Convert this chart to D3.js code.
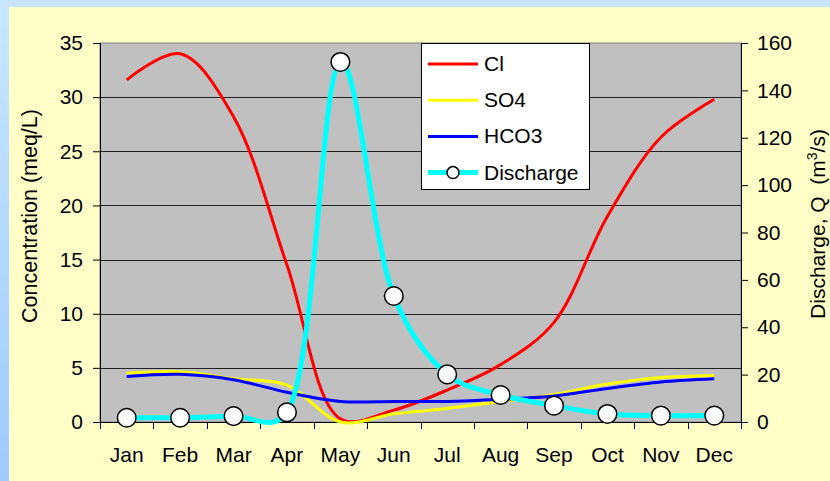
<!DOCTYPE html>
<html>
<head>
<meta charset="utf-8">
<title>Concentration and discharge</title>
<script src="https://cdn.jsdelivr.net/npm/d3@7"></script>
<style>
  html, body { margin: 0; padding: 0; width: 830px; height: 481px; overflow: hidden; }
  svg { display: block; font-family: Arial, "Liberation Sans", sans-serif; }
</style>
</head>
<body>
<svg class="main" width="830" height="481"></svg>
<script>
  // data
  var months = ["Jan", "Feb", "Mar", "Apr", "May", "Jun", "Jul", "Aug", "Sep", "Oct", "Nov", "Dec"];
  var cl = [31.6, 34.0, 28.2, 14.5, 0.3, 1.1, 2.95, 5.3, 9.2, 19.0, 26.3, 29.8];
  var so4 = [4.5, 4.65, 4.0, 3.4, 0.0, 0.75, 1.25, 1.9, 2.55, 3.5, 4.1, 4.3];
  var hco3 = [4.2, 4.4, 3.9, 2.75, 1.9, 1.9, 1.9, 2.1, 2.4, 3.1, 3.7, 4.0];
  var discharge = [1.8, 1.8, 2.5, 4.1, 152, 53.2, 20.1, 11.4, 6.9, 3.4, 2.7, 2.7];
  var leftTicks = [0, 5, 10, 15, 20, 25, 30, 35];
  var rightTicks = [0, 20, 40, 60, 80, 100, 120, 140, 160];

  var svg = d3.select("svg");
  var W = 830, H = 481;
  var plot = { left: 100, right: 741, top: 43, bottom: 422 };

  // background: blue frame + pale yellow panel
  var defs = svg.append("defs");
  var grad = defs.append("linearGradient").attr("id", "edge")
      .attr("x1", 0).attr("y1", 0).attr("x2", 0).attr("y2", 1);
  grad.append("stop").attr("offset", "0%").attr("stop-color", "#c8e6ff");
  grad.append("stop").attr("offset", "100%").attr("stop-color", "#9fcbff");

  svg.append("rect").attr("width", W).attr("height", H).attr("fill", "#c8e6ff");
  svg.append("rect").attr("width", 9).attr("height", H).attr("fill", "url(#edge)");
  svg.append("rect").attr("x", 9).attr("y", 7).attr("width", W - 9).attr("height", H - 7)
      .attr("fill", "#ffffc8");

  // scales
  var x = d3.scaleBand().domain(months).range([plot.left, plot.right]);
  var yL = d3.scaleLinear().domain([0, 35]).range([plot.bottom, plot.top]);
  var yR = d3.scaleLinear().domain([0, 160]).range([plot.bottom, plot.top]);
  var cx = function (d, i) { return x(months[i]) + x.bandwidth() / 2; };

  // plot area
  svg.append("rect")
      .attr("x", plot.left).attr("y", plot.top)
      .attr("width", plot.right - plot.left).attr("height", plot.bottom - plot.top)
      .attr("fill", "#c0c0c0").attr("stroke", "#808080").attr("stroke-width", 1);

  // gridlines
  svg.append("g").selectAll("line")
      .data(leftTicks.filter(function (t) { return t > 0 && t < 35; }))
      .enter().append("line")
      .attr("x1", plot.left).attr("x2", plot.right)
      .attr("y1", function (d) { return Math.round(yL(d)) + 0.5; })
      .attr("y2", function (d) { return Math.round(yL(d)) + 0.5; })
      .attr("stroke", "#222").attr("stroke-width", 1);

  // axes
  var axisL = svg.append("g").attr("transform", "translate(" + plot.left + ",0)")
      .call(d3.axisLeft(yL).tickValues(leftTicks).tickSize(7).tickPadding(10));
  var axisR = svg.append("g").attr("transform", "translate(" + plot.right + ",0)")
      .call(d3.axisRight(yR).tickValues(rightTicks).tickSize(7).tickPadding(9));
  var axisB = svg.append("g").attr("transform", "translate(0," + plot.bottom + ")")
      .call(d3.axisBottom(x).tickSize(0).tickPadding(25));

  [axisL, axisR, axisB].forEach(function (a) {
    a.select(".domain").attr("stroke", "#000");
    a.selectAll("text").attr("font-size", "21px").attr("fill", "#000")
        .attr("font-family", "Arial, 'Liberation Sans', sans-serif");
    a.selectAll(".tick line").attr("stroke", "#000");
  });
  axisB.select(".domain").remove();
  svg.append("line")
      .attr("x1", plot.left).attr("x2", plot.right)
      .attr("y1", plot.bottom + 0.5).attr("y2", plot.bottom + 0.5)
      .attr("stroke", "#000");

  // category boundary ticks on the x axis
  var bounds = months.map(function (m) { return x(m); }).concat([plot.right]);
  svg.append("g").selectAll("line").data(bounds).enter().append("line")
      .attr("x1", function (d) { return Math.round(d) + 0.5; })
      .attr("x2", function (d) { return Math.round(d) + 0.5; })
      .attr("y1", plot.bottom).attr("y2", plot.bottom + 7)
      .attr("stroke", "#000");

  // axis titles
  svg.append("text")
      .attr("transform", "translate(37," + 216 + ") rotate(-90)")
      .attr("text-anchor", "middle").attr("font-size", "21.5px")
      .text("Concentration (meq/L)");

  var rt = svg.append("text")
      .attr("transform", "translate(825," + 224 + ") rotate(-90)")
      .attr("text-anchor", "middle").attr("font-size", "21px");
  rt.append("tspan").text("Discharge, Q\u00a0\u00a0(m");
  rt.append("tspan").attr("font-size", "14px").attr("dy", "-8").text("3");
  rt.append("tspan").attr("dy", "8").text("/s)");

  // series
  var lineL = d3.line().x(cx).y(function (d) { return yL(d); }).curve(d3.curveCatmullRom);
  var lineR = d3.line().x(cx).y(function (d) { return yR(d); }).curve(d3.curveCatmullRom.alpha(0.35));

  var series = [
    { name: "Cl", values: cl, color: "#ff0000", width: 3 },
    { name: "SO4", values: so4, color: "#ffff00", width: 3 },
    { name: "HCO3", values: hco3, color: "#0000ff", width: 3 }
  ];

  series.forEach(function (s) {
    svg.append("path").datum(s.values)
        .attr("d", lineL)
        .attr("fill", "none").attr("stroke", s.color)
        .attr("stroke-width", s.width).attr("stroke-linejoin", "round");
  });

  svg.append("path").datum(discharge)
      .attr("d", lineR)
      .attr("fill", "none").attr("stroke", "#00ffff")
      .attr("stroke-width", 5).attr("stroke-linejoin", "round");

  svg.append("g").selectAll("circle").data(discharge).enter().append("circle")
      .attr("cx", cx).attr("cy", function (d) { return yR(d); })
      .attr("r", 9.3).attr("fill", "#fff").attr("stroke", "#000").attr("stroke-width", 1.5);

  // legend
  var lg = svg.append("g").attr("transform", "translate(421,43)");
  lg.append("rect").attr("x", 0.5).attr("y", 0.5).attr("width", 168).attr("height", 146)
      .attr("fill", "#fff").attr("stroke", "#000");
  var items = series.concat([{ name: "Discharge", color: "#00ffff", width: 5, marker: true }]);
  items.forEach(function (s, i) {
    var yy = 21 + i * 36.2;
    lg.append("line").attr("x1", 7).attr("x2", 57).attr("y1", yy).attr("y2", yy)
        .attr("stroke", s.color).attr("stroke-width", s.width);
    if (s.marker) {
      lg.append("circle").attr("cx", 32).attr("cy", yy).attr("r", 6)
          .attr("fill", "#fff").attr("stroke", "#000").attr("stroke-width", 1.5);
    }
    lg.append("text").attr("x", 63).attr("y", yy + 7).attr("font-size", "21px").text(s.name);
  });
</script>
</body>
</html>
